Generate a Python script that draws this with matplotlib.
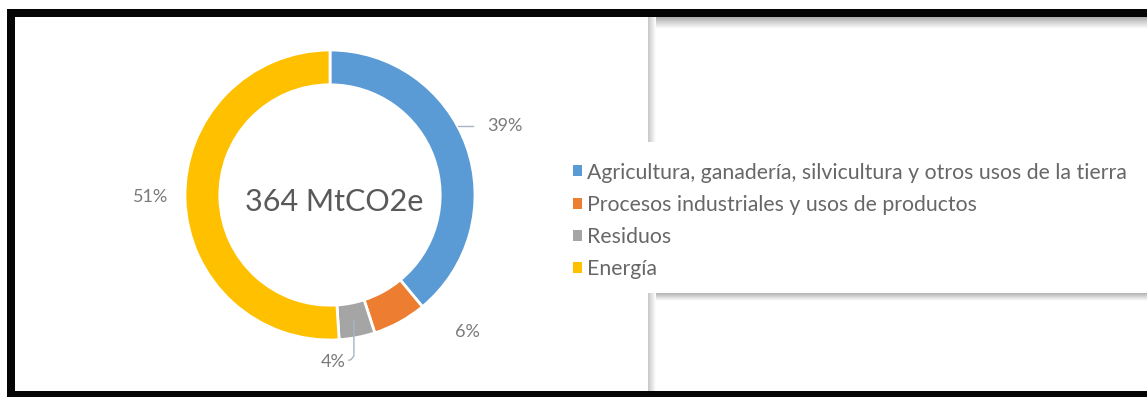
import numpy as np
import matplotlib
matplotlib.use("Agg")
import matplotlib.pyplot as plt
from matplotlib.patches import Rectangle, Patch

# Emisiones por sector (porcentaje del total)
sectores = [
    "Agricultura, ganadería, silvicultura y otros usos de la tierra",
    "Procesos industriales y usos de productos",
    "Residuos",
    "Energía",
]
porcentajes = [39, 6, 4, 51]
colores = ["#5B9BD5", "#ED7D31", "#A5A5A5", "#FFC000"]
total_txt = "364 MtCO2e"

plt.rcParams["font.family"] = ["Lato", "DejaVu Sans"]

W, H = 1147, 397
fig = plt.figure(figsize=(W / 100, H / 100), dpi=100, facecolor="white")


def px_box(x0, y0, w, h):
    # pixel box (top-left origin) -> figure fraction
    return [x0 / W, 1 - (y0 + h) / H, w / W, h / H]


# --- background: black frame + panels behind the legend ---
bg = fig.add_axes([0, 0, 1, 1], zorder=0)
bg.set_xlim(0, W)
bg.set_ylim(H, 0)
bg.axis("off")

black = "#050505"
bg.add_patch(Rectangle((7, 9), W - 7, 8, color=black, lw=0))
bg.add_patch(Rectangle((7, 9), 8, H - 9, color=black, lw=0))
bg.add_patch(Rectangle((7, 391), W - 7, 6, color=black, lw=0))


def gradient(x0, x1, y0, y1, start, end, horizontal):
    g = np.linspace(start, end, 32)
    img = g[None, :] if horizontal else g[:, None]
    bg.imshow(img, cmap="gray", vmin=0, vmax=1, extent=(x0, x1, y1, y0),
              aspect="auto", interpolation="bilinear", zorder=1)


# upper panel: top and left shadow
gradient(648, W, 17, 29, 0.68, 1.0, horizontal=False)
gradient(648, 656, 17, 142, 0.78, 1.0, horizontal=True)
# lower panel: top and left shadow
gradient(648, W, 293, 301, 0.70, 1.0, horizontal=False)
gradient(648, 656, 293, 391, 0.78, 1.0, horizontal=True)
bg.set_xlim(0, W)
bg.set_ylim(H, 0)

# --- donut ---
cx, cy, R = 330, 195, 145
S = 215
ax = fig.add_axes(px_box(cx - S, cy - S, 2 * S, 2 * S), zorder=2)
ax.set_facecolor("none")
wedges, _ = ax.pie(porcentajes, colors=colores, startangle=90, counterclock=False,
                   radius=1, wedgeprops=dict(width=0.24, edgecolor="white", linewidth=2))
ax.set_xlim(-S / R, S / R)
ax.set_ylim(-S / R, S / R)
ax.set_aspect("equal")
ax.axis("off")

ax.text(0.03, -0.05, total_txt, ha="center", va="center", fontsize=22, color="#595959")

# data labels (pie units)
label_pos = [(1.207, 0.476), (0.945, -0.945), (0.02, -1.152), (-1.234, -0.014)]
for p, (lx, ly) in zip(porcentajes, label_pos):
    ax.text(lx, ly, f"{p}%", ha="center", va="center", fontsize=13, color="#7a7a7a")

# leader lines
lead = "#A9B4C2"
y39 = label_pos[0][1]
ax.plot([np.sqrt(1 - y39 ** 2), 0.985], [y39, y39], color=lead, lw=1)

ang = np.cumsum([0] + porcentajes)
mid = 90 - 360 * (ang[2] + porcentajes[2] / 2) / 100
mx, my = 0.88 * np.cos(np.radians(mid)), 0.88 * np.sin(np.radians(mid))
ax.plot([mx, mx, mx - 0.02, 0.13], [my, -1.11, -1.135, -1.14], color=lead, lw=1)

# --- legend ---
handles = [Patch(facecolor=c, edgecolor="none") for c in colores]
fig.legend(handles, sectores, loc="center left",
           bbox_to_anchor=(573 / W, 1 - 221 / H), frameon=False,
           fontsize=15.3, labelcolor="#676767", handlelength=0.42, handleheight=0.42,
           handletextpad=0.25, labelspacing=0.58, borderpad=0, borderaxespad=0)

fig.savefig("out.png", dpi=100, facecolor="white")
